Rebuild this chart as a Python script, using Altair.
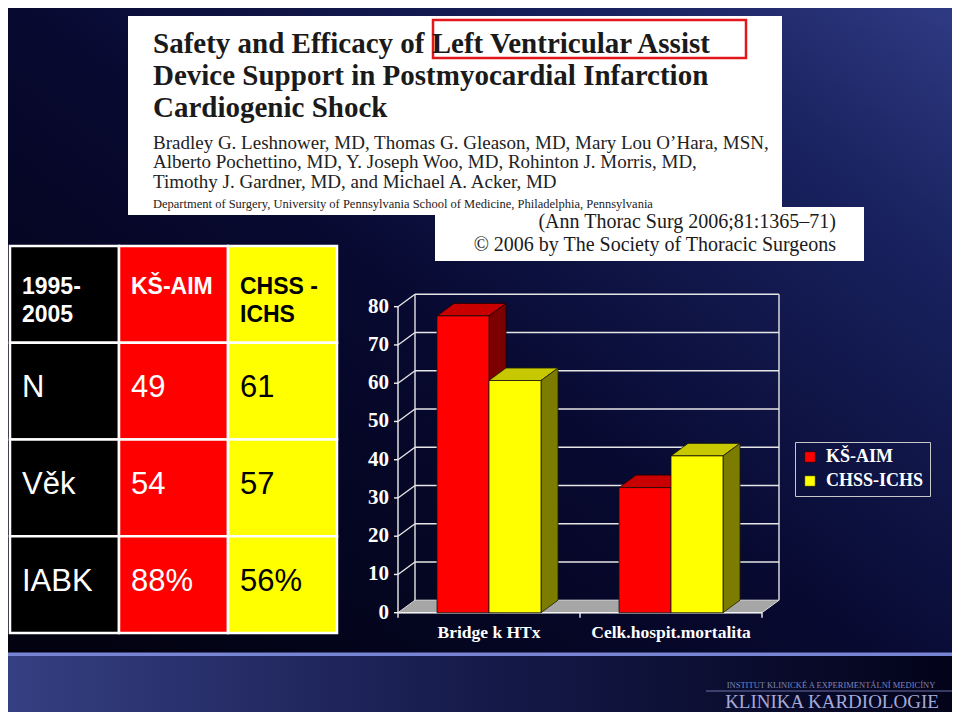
import altair as alt
import pandas as pd

# ---------------- data ----------------
CATEGORIES = ["Bridge k HTx", "Celk.hospit.mortalita"]
SERIES = ["KŠ-AIM", "CHSS-ICHS"]
KS_AIM = [77.6, 32.7]
CHSS_ICHS = [60.7, 41.0]
Y_TICKS = [0, 10, 20, 30, 40, 50, 60, 70, 80]

TABLE_HEADER = ["1995-\n2005", "KŠ-AIM", "CHSS -\nICHS"]
ROW_LABELS = ["N", "Věk", "IABK"]
ROW_KS = ["49", "54", "88%"]
ROW_CHSS = ["61", "57", "56%"]

TITLE_LINES = [
    "Safety and Efficacy of Left Ventricular Assist",
    "Device Support in Postmyocardial Infarction",
    "Cardiogenic Shock",
]
AUTHOR_LINES = [
    "Bradley G. Leshnower, MD, Thomas G. Gleason, MD, Mary Lou O\u2019Hara, MSN,",
    "Alberto Pochettino, MD, Y. Joseph Woo, MD, Rohinton J. Morris, MD,",
    "Timothy J. Gardner, MD, and Michael A. Acker, MD",
]
DEPARTMENT = ["Department of Surgery, University of Pennsylvania School of Medicine, Philadelphia, Pennsylvania"]
CITATION = ["(Ann Thorac Surg 2006;81:1365\u201371)", "\u00a9 2006 by The Society of Thoracic Surgeons"]
LOGO_SMALL = ["INSTITUT KLINICKÉ A EXPERIMENTÁLNÍ MEDICÍNY"]
LOGO_BIG = ["KLINIKA KARDIOLOGIE"]

# ---------------- layout ----------------
W, H = 944, 704


def px(x):
    return x - 8


def py(y):
    return y - 8


PXS = alt.Scale(domain=[0, W], range=[0, W], nice=False, zero=False)
PYS = alt.Scale(domain=[0, H], range=[0, H], nice=False, zero=False)
ONE = pd.DataFrame({"k": [0]})


def rect(x0, y0, x1, y1, **mark):
    return alt.Chart(ONE).mark_rect(**mark).encode(
        x=alt.value(max(0, px(x0))), x2=alt.value(min(W, px(x1))),
        y=alt.value(max(0, py(y0))), y2=alt.value(min(H, py(y1))))


def texts(lines, xs, ys, **mark):
    df = pd.DataFrame({"t": lines, "x": [px(v) for v in xs], "y": [py(v) for v in ys]})
    return alt.Chart(df).mark_text(baseline="middle", **mark).encode(
        x=alt.X("x:Q", scale=PXS, axis=None),
        y=alt.Y("y:Q", scale=PYS, axis=None),
        text="t:N")


def grad(stops, x1, y1, x2, y2):
    return alt.LinearGradient(gradient="linear", x1=x1, y1=y1, x2=x2, y2=y2,
                              stops=[alt.GradientStop(color=c, offset=o) for o, c in stops])


layers = []
# background
layers.append(rect(0, 0, 960, 654, color=grad(
    [(0, "#020210"), (0.45, "#070930"), (0.8, "#19225f"), (1, "#2e3a82")], 0, 0.9, 1, 0)))
layers.append(rect(0, 655, 960, 720, color=grad(
    [(0, "#363f82"), (0.5, "#151a4a"), (1, "#03031a")], 0, 0, 1, 0)))
layers.append(rect(0, 652.5, 960, 656, color="#7884d4"))

# article header image
layers.append(rect(128, 16, 782, 215, color="white"))
layers.append(rect(435, 207, 864, 261, color="white"))
layers.append(rect(433, 20, 746, 58, fillOpacity=0, stroke="#e3161c", strokeWidth=2.5))
layers.append(texts(TITLE_LINES, [153] * 3, [44, 76, 108], align="left",
                    font="Liberation Serif", fontWeight="bold", fontSize=29, color="#1a1a1a"))
layers.append(texts(AUTHOR_LINES, [153] * 3, [143, 162, 182], align="left",
                    font="Liberation Serif", fontSize=19, color="#222222"))
layers.append(texts(DEPARTMENT, [153], [204], align="left",
                    font="Liberation Serif", fontSize=12.5, color="#222222"))
layers.append(texts(CITATION, [836, 836], [222, 245], align="right",
                    font="Liberation Serif", fontSize=20, color="#1a1a1a"))

# table
COLS = ["c0", "c1", "c2"]
ROWS = ["r0", "r1", "r2", "r3"]
TX = alt.Scale(domain=COLS, range=[px(10), px(337)], paddingInner=0, paddingOuter=0)
TY = alt.Scale(domain=ROWS, range=[py(246), py(633)], paddingInner=0, paddingOuter=0)
HALF_COL = (337 - 10) / 3 / 2
cells = pd.DataFrame([{"col": c, "row": r} for r in ROWS for c in COLS])
layers.append(alt.Chart(cells).mark_rect(stroke="white", strokeWidth=2.5).encode(
    x=alt.X("col:N", scale=TX, axis=None),
    y=alt.Y("row:N", scale=TY, axis=None),
    color=alt.Color("col:N", scale=alt.Scale(domain=COLS, range=["#000000", "#ff0000", "#ffff00"]), legend=None)))
head = pd.DataFrame({"col": COLS, "row": ["r0"] * 3, "t": TABLE_HEADER})
layers.append(alt.Chart(head).mark_text(align="left", baseline="middle", dx=12 - HALF_COL, dy=-7,
                                        lineBreak="\n", lineHeight=28, font="Liberation Sans",
                                        fontWeight="bold", fontSize=23).encode(
    x=alt.X("col:N", scale=TX, axis=None),
    y=alt.Y("row:N", scale=TY, axis=None),
    text="t:N",
    color=alt.Color("col:N", scale=alt.Scale(domain=COLS, range=["white", "white", "black"]), legend=None)))
body = pd.DataFrame(
    [{"col": "c0", "row": ROWS[i + 1], "t": ROW_LABELS[i]} for i in range(3)]
    + [{"col": "c1", "row": ROWS[i + 1], "t": ROW_KS[i]} for i in range(3)]
    + [{"col": "c2", "row": ROWS[i + 1], "t": ROW_CHSS[i]} for i in range(3)])
layers.append(alt.Chart(body).mark_text(align="left", baseline="middle", dx=12 - HALF_COL, dy=-3,
                                        font="Liberation Sans", fontSize=31).encode(
    x=alt.X("col:N", scale=TX, axis=None),
    y=alt.Y("row:N", scale=TY, axis=None),
    text="t:N",
    color=alt.Color("col:N", scale=alt.Scale(domain=COLS, range=["white", "white", "black"]), legend=None)))

# 3D bar chart
BXS = alt.Scale(domain=[0, 2], range=[px(398), px(762)], nice=False, zero=False)
BYS = alt.Scale(domain=[0, 80], range=[py(612.7), py(306.7)], nice=False, zero=False)
DX = 17 / 182.0          # depth offset, category units
DY = 12.5 / 3.825        # depth offset, value units
BAR = 52 / 182.0         # bar width, category units

bars = []
for ci, cat in enumerate(CATEGORIES):
    for si, vals in enumerate([KS_AIM, CHSS_ICHS]):
        xl = ci + 0.5 - BAR + si * BAR
        bars.append({"cat": cat, "series": SERIES[si], "si": si, "xl": xl, "xr": xl + BAR,
                     "v": vals[ci], "base": 0})
bars_df = pd.DataFrame(bars)

SHADES = ["r-top", "r-side", "y-top", "y-side", "floor"]
SHADE_COLORS = ["#c80000", "#7c0000", "#c8c800", "#7c7c00", "#a6a6a6"]
faces = []
for b in bars:
    xl, xr, v = b["xl"], b["xr"], b["v"]
    tag = "r" if b["si"] == 0 else "y"
    fid = f"{b['cat']}-{b['si']}"
    for (x, y0, y1) in [(xl, v, v), (xl + DX, v, v + DY), (xr, v, v + DY), (xr + DX, v + DY, v + DY)]:
        faces.append({"face": fid + "-top", "shade": tag + "-top", "si": b["si"], "x": x, "y": y0, "y2": y1})
    for (x, y0, y1) in [(xr, 0, v), (xr + DX, DY, v + DY)]:
        faces.append({"face": fid + "-side", "shade": tag + "-side", "si": b["si"], "x": x, "y": y0, "y2": y1})
for (x, y0, y1) in [(0, 0, 0), (DX, 0, DY), (2, 0, DY), (2 + DX, DY, DY)]:
    faces.append({"face": "floor", "shade": "floor", "si": -1, "x": x, "y": y0, "y2": y1})
faces_df = pd.DataFrame(faces)


def face_layer(si, stroke, sw):
    return alt.Chart(faces_df).transform_filter(alt.datum.si == si).mark_area(
        orient="vertical", stroke=stroke, strokeWidth=sw, opacity=1).encode(
        x=alt.X("x:Q", scale=BXS, axis=None),
        y=alt.Y("y:Q", scale=BYS, axis=None, stack=None),
        y2="y2:Q",
        detail="face:N",
        color=alt.Color("shade:N", scale=alt.Scale(domain=SHADES, range=SHADE_COLORS), legend=None))


grid = []
for v in Y_TICKS[1:]:
    grid.append({"x0": DX, "x1": 2 + DX, "y0": v + DY, "y1": v + DY})
    grid.append({"x0": 0, "x1": DX, "y0": v, "y1": v + DY})
grid.append({"x0": DX, "x1": DX, "y0": DY, "y1": 80 + DY})
grid.append({"x0": 2 + DX, "x1": 2 + DX, "y0": DY, "y1": 80 + DY})
grid_df = pd.DataFrame(grid)

axis = [{"x0": 0, "x1": 0, "y0": 0, "y1": 80}]
for v in Y_TICKS:
    axis.append({"x0": -4 / 182.0, "x1": 0, "y0": v, "y1": v})
for c in [0, 1, 2]:
    axis.append({"x0": c, "x1": c, "y0": 0, "y1": -5 / 3.825})
axis.append({"x0": 0, "x1": 2, "y0": 0, "y1": 0})
axis_df = pd.DataFrame(axis)


def rule_layer(df, color, sw):
    return alt.Chart(df).mark_rule(color=color, strokeWidth=sw).encode(
        x=alt.X("x0:Q", scale=BXS, axis=None), x2="x1:Q",
        y=alt.Y("y0:Q", scale=BYS, axis=None), y2="y1:Q")


layers.append(rule_layer(grid_df, "#e6e6e6", 1.4))
layers.append(face_layer(-1, "#dcdcdc", 1))
layers.append(rule_layer(axis_df, "#f0f0f0", 1.4))
layers.append(face_layer(0, "#200000", 0.8))
layers.append(face_layer(1, "#202000", 0.8))
layers.append(alt.Chart(bars_df).mark_rect(stroke="#111111", strokeWidth=0.8).encode(
    x=alt.X("xl:Q", scale=BXS, axis=None), x2="xr:Q",
    y=alt.Y("v:Q", scale=BYS, axis=None), y2="base:Q",
    color=alt.Color("series:N", title=None,
                    scale=alt.Scale(domain=SERIES, range=["#ff0000", "#ffff00"]),
                    legend=alt.Legend(orient="none", legendX=787, legendY=434, direction="vertical",
                                      symbolType="square", symbolSize=110, symbolStrokeColor="black",
                                      symbolStrokeWidth=0.5, labelFont="Liberation Serif",
                                      labelFontWeight="bold", labelFontSize=18, labelColor="white",
                                      labelOffset=7, rowPadding=6, padding=6,
                                      strokeColor="#c8c8c8"))))

ticks_df = pd.DataFrame({"v": Y_TICKS, "x": [0] * len(Y_TICKS), "t": [str(v) for v in Y_TICKS]})
layers.append(alt.Chart(ticks_df).mark_text(align="right", baseline="middle", dx=-9,
                                            font="Liberation Serif", fontWeight="bold",
                                            fontSize=21, color="white").encode(
    x=alt.X("x:Q", scale=BXS, axis=None), y=alt.Y("v:Q", scale=BYS, axis=None), text="t:N"))
cat_df = pd.DataFrame({"c": CATEGORIES, "x": [i + 0.5 for i in range(len(CATEGORIES))], "v": [0] * len(CATEGORIES)})
layers.append(alt.Chart(cat_df).mark_text(align="center", baseline="middle", dy=20,
                                          font="Liberation Serif", fontWeight="bold",
                                          fontSize=17.5, color="white").encode(
    x=alt.X("x:Q", scale=BXS, axis=None), y=alt.Y("v:Q", scale=BYS, axis=None), text="c:N"))

# logo (kept inside the drawable area)
layers.append(texts(LOGO_SMALL, [831], [685], align="center", font="Liberation Serif",
                    fontSize=8.5, color="#7d84b8"))
layers.append(rect(706, 690.5, 956, 691.6, color="#6a72a8"))
layers.append(texts(LOGO_BIG, [832], [702], align="center", font="Liberation Serif",
                    fontSize=19, color="#a4aada"))

chart = alt.layer(*layers).resolve_scale(
    x="independent", y="independent", color="independent"
).properties(
    width=W, height=H, padding=0, background="#03031a",
    autosize=alt.AutoSizeParams(type="none"),
).configure_view(stroke=None)

chart.save("out.html", embed_options={"renderer": "svg", "actions": False})
